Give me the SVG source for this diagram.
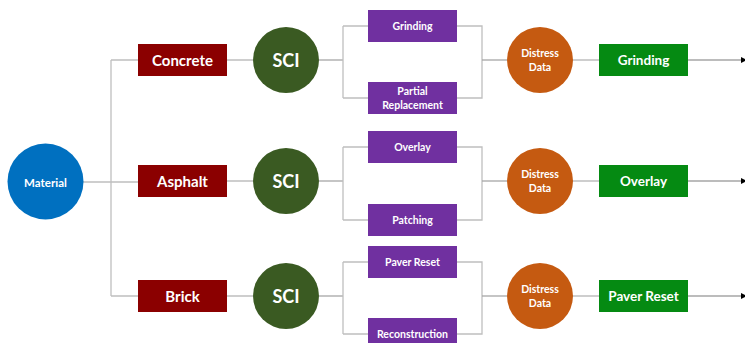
<svg xmlns="http://www.w3.org/2000/svg" width="745" height="343" viewBox="0 0 745 343">
<defs>
<style>
.ln{fill:none;stroke:#BFBFBF;stroke-width:1.3}
.lnd{fill:none;stroke:#A6A6A6;stroke-width:1.3}
text{font-family:Lato,"Liberation Sans",sans-serif;font-weight:bold;fill:#FFFFFF;text-anchor:middle;dominant-baseline:central}
.mat{fill:#8B0000}
.sci{fill:#3A5A22}
.pur{fill:#7030A0}
.dis{fill:#C55A11}
.grn{fill:#058A12}
.t15{font-size:15px}
.t17{font-size:18px}
.t10{font-size:10.5px}
.t13{font-size:13.5px}
</style>
<marker id="ah" markerWidth="6" markerHeight="6" refX="5" refY="3" orient="auto" markerUnits="userSpaceOnUse">
<path d="M0,0 L6,3 L0,6 Z" fill="#000"/>
</marker>
</defs>
<rect width="745" height="343" fill="#FFFFFF"/>
<g id="connectors">
<path class="ln" d="M83,182 H138 M111,60 V296 M111,60 H138 M111,296 H138"/>
<path class="ln" d="M227,60 H253 M227,181 H253 M227,296 H253"/>
<path class="lnd" d="M319,60 H343"/>
<path class="ln" d="M343,26 V98 M343,26 H368 M343,98 H368"/>
<path class="lnd" d="M319,181 H343"/>
<path class="ln" d="M343,147 V220 M343,147 H368 M343,220 H368"/>
<path class="lnd" d="M319,296 H343"/>
<path class="ln" d="M343,262 V334 M343,262 H368 M343,334 H368"/>
<path class="ln" d="M457,26 H482 V98 H457"/>
<path class="lnd" d="M482,60 H507"/>
<path class="ln" d="M457,147 H482 V220 H457"/>
<path class="lnd" d="M482,181 H507"/>
<path class="ln" d="M457,262 H482 V334 H457"/>
<path class="lnd" d="M482,296 H507"/>
<path class="ln" d="M572,60 H599 M572,181 H599 M572,296 H599"/>
<path class="lnd" d="M688,60 H746" marker-end="url(#ah)"/>
<path class="lnd" d="M688,181 H746" marker-end="url(#ah)"/>
<path class="lnd" d="M688,296 H746" marker-end="url(#ah)"/>
</g>
<g id="material"><circle cx="45.5" cy="181.5" r="38" fill="#0070C0"/><text x="45.5" y="182" font-size="11.5">Material</text></g>
<g id="concrete"><rect class="mat" x="138" y="44" width="89" height="32"/><text class="t15" x="182.5" y="60">Concrete</text></g>
<g id="asphalt"><rect class="mat" x="138" y="165" width="89" height="32"/><text class="t15" x="182.5" y="181">Asphalt</text></g>
<g id="brick"><rect class="mat" x="138" y="280" width="89" height="32"/><text class="t15" x="182.5" y="296">Brick</text></g>
<g id="sci1"><circle class="sci" cx="286" cy="60" r="33"/><text class="t17" x="286" y="60">SCI</text></g>
<g id="sci2"><circle class="sci" cx="286" cy="181" r="33"/><text class="t17" x="286" y="181">SCI</text></g>
<g id="sci3"><circle class="sci" cx="286" cy="296" r="33"/><text class="t17" x="286" y="296">SCI</text></g>
<g id="grinding"><rect class="pur" x="368" y="10" width="89" height="32"/><text class="t10" x="412.5" y="26">Grinding</text></g>
<g id="partial"><rect class="pur" x="368" y="82" width="89" height="32"/><text class="t10" x="412.5" y="91">Partial</text><text class="t10" x="412.5" y="105">Replacement</text></g>
<g id="overlay"><rect class="pur" x="368" y="131" width="89" height="32"/><text class="t10" x="412.5" y="147">Overlay</text></g>
<g id="patching"><rect class="pur" x="368" y="204" width="89" height="32"/><text class="t10" x="412.5" y="220">Patching</text></g>
<g id="paverreset"><rect class="pur" x="368" y="246" width="89" height="32"/><text class="t10" x="412.5" y="262">Paver Reset</text></g>
<g id="reconstruction"><rect class="pur" x="368" y="318" width="89" height="32"/><text class="t10" x="412.5" y="334">Reconstruction</text></g>
<g id="distress1"><circle class="dis" cx="540" cy="60" r="33"/><text class="t10" x="540" y="53">Distress</text><text class="t10" x="540" y="67">Data</text></g>
<g id="distress2"><circle class="dis" cx="540" cy="181" r="33"/><text class="t10" x="540" y="174">Distress</text><text class="t10" x="540" y="188">Data</text></g>
<g id="distress3"><circle class="dis" cx="540" cy="296" r="33"/><text class="t10" x="540" y="289">Distress</text><text class="t10" x="540" y="303">Data</text></g>
<g id="out-grinding"><rect class="grn" x="599" y="44" width="89" height="32"/><text class="t13" x="643.5" y="60">Grinding</text></g>
<g id="out-overlay"><rect class="grn" x="599" y="165" width="89" height="32"/><text class="t13" x="643.5" y="181">Overlay</text></g>
<g id="out-paverreset"><rect class="grn" x="599" y="280" width="89" height="32"/><text class="t13" x="643.5" y="296">Paver Reset</text></g>
</svg>
